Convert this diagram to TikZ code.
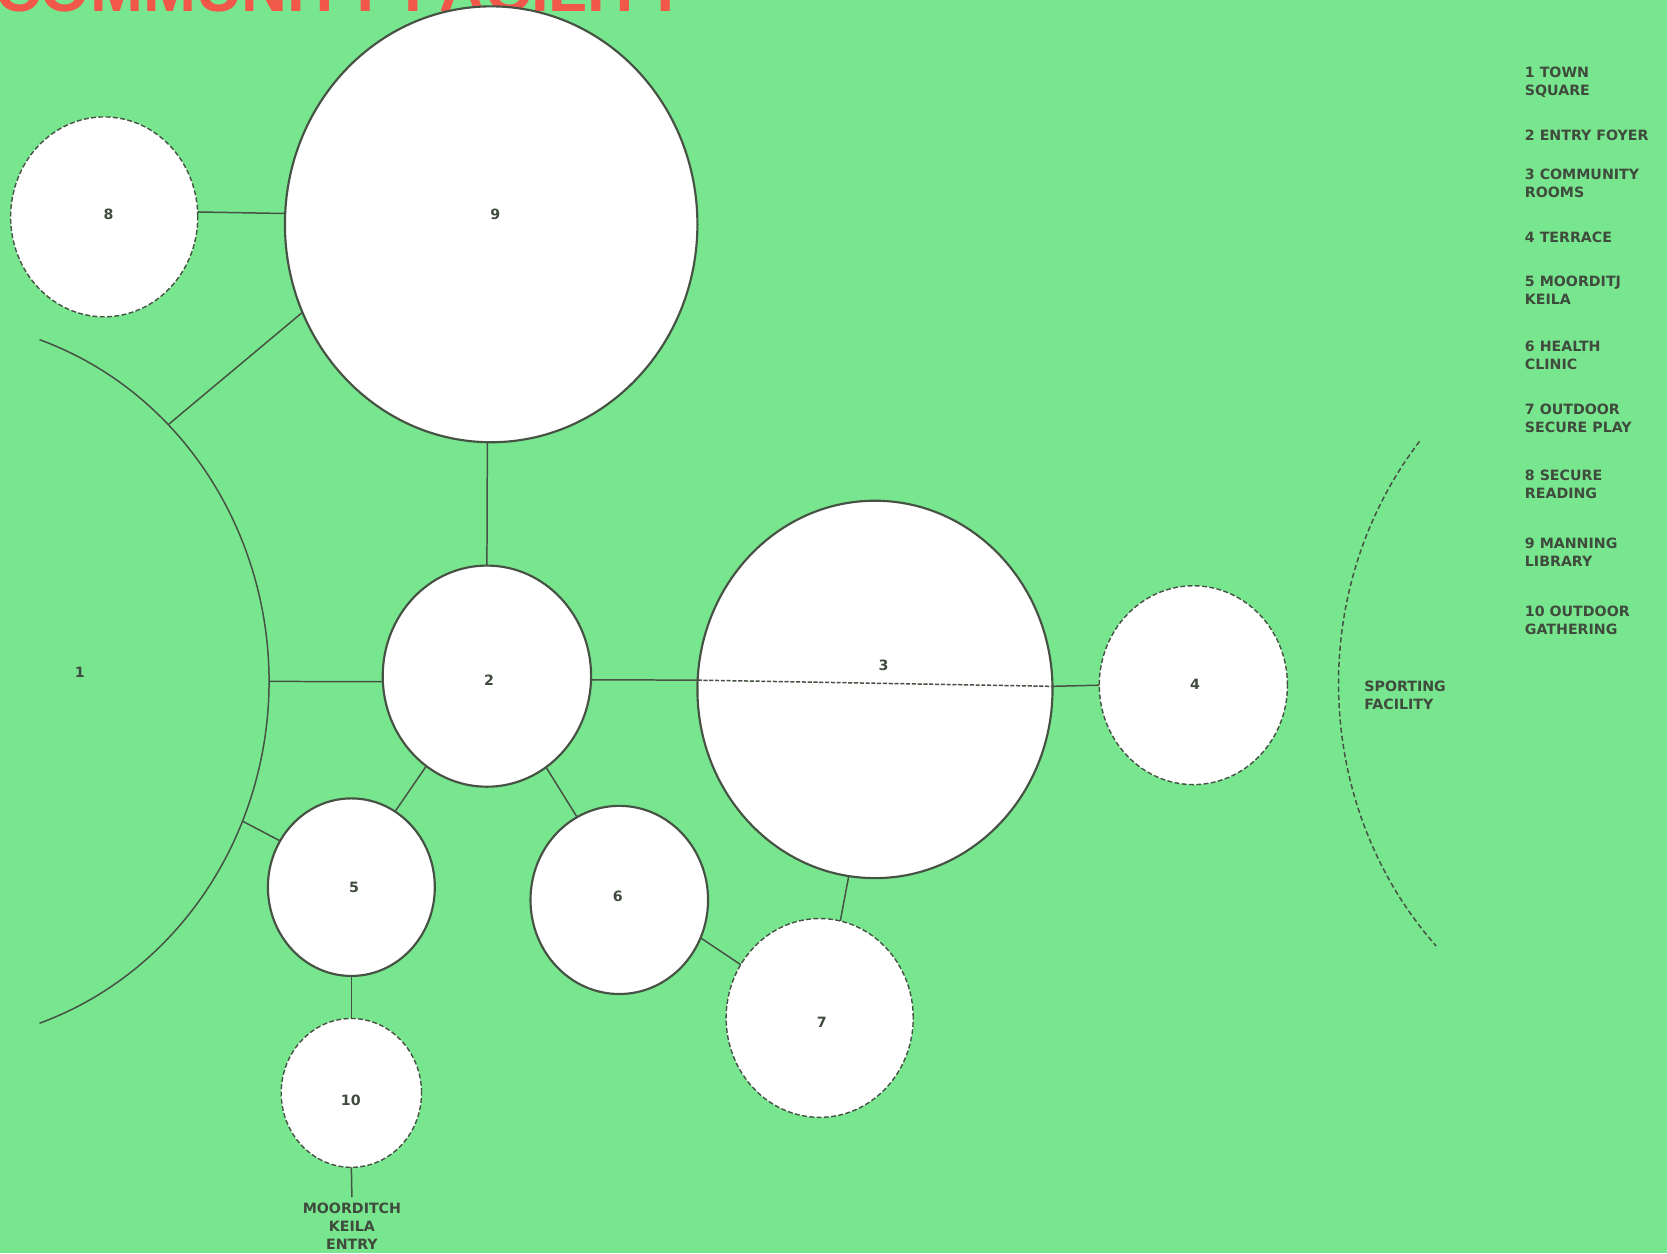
\documentclass[tikz,border=0pt]{standalone}
\usepackage{fontspec}
\setmainfont{DejaVu Sans}
\newfontfamily\titlefont{Liberation Sans}
\usetikzlibrary{shapes.geometric}
\definecolor{bggreen}{HTML}{78E68F}
\definecolor{linegrey}{HTML}{465243}
\definecolor{textgrey}{HTML}{3F4B3C}
\definecolor{titlered}{HTML}{F2584A}
\tikzset{
    room/.style={ellipse, draw=linegrey, fill=white, line width=1.15pt, inner sep=0pt, outer sep=0pt},
    openroom/.style={room, line width=0.75pt, dash pattern=on 2.6pt off 1.3pt},
    link/.style={draw=linegrey, line width=0.8pt},
    tag/.style={text=textgrey, font=\fontsize{7.6}{9.64}\selectfont\bfseries, inner sep=0pt}
}
\begin{document}
\begin{tikzpicture}[x=0.02cm, y=0.02cm]
    \def\px{0.02cm}
    \fill[bggreen] (0,0) rectangle (1568,1179);
    \useasboundingbox (0,0) rectangle (1568,1179);
    % title, cut by the top edge
    \node[anchor=base west, inner sep=0pt, text=titlered, font=\titlefont\fontsize{34}{40}\selectfont\bfseries] (title) at (-5,1168) {COMMUNITY FACILITY};
    % town square
    \node[ellipse, minimum width=640*\px, minimum height=680*\px, inner sep=0pt, outer sep=0pt] (r1) at (-67,538) {};
    \draw[link] (r1.center) ++(71:320 and 340) arc[start angle=71, end angle=-71, x radius=320, y radius=340];
    % rooms
    \foreach \n/\x/\y/\w/\h in {9/462/968/388/410, 2/458/543/196/208, 3/823/530.5/334/355, 5/330.5/344.5/157/167, 6/582.5/332.5/167/177}{
        \node[room, minimum width=\w*\px, minimum height=\h*\px] (r\n) at (\x,\y) {};
    }
    \foreach \n/\x/\y/\w/\h in {8/98/975/176/188, 4/1122.5/534.5/177/187, 7/771/221.5/176/187, 10/330.5/151/132/140}{
        \node[openroom, minimum width=\w*\px, minimum height=\h*\px] (r\n) at (\x,\y) {};
    }
    \foreach \n/\x/\y in {1/75/547, 2/460/539, 3/831/553, 4/1124/535, 5/333/344, 6/581/336, 7/773/217, 8/102/977, 9/466/977, 10/330/144}{
        \node[tag] (t\n) at (\x,\y) {\n};
    }
    \node[tag, align=center, anchor=north, inner ysep=3pt] (entry) at (331,53) {MOORDITCH\\KEILA\\ENTRY};
    % links
    \draw[link] (r8.3) -- (r9.177);
    \draw[link] (r1.47) -- (r9.205);
    \draw[link] (r9.269) -- (r2.north);
    \draw[link] (r1.east) -- (r2.183);
    \draw[link] (r2.358) -- (r3.177);
    \draw[link, dash pattern=on 2.2pt off 0.9pt] (r3.177) -- (r3.1);
    \draw[link] (r3.1) -- (r4.west);
    \draw[link] (r2.236) -- (r5.60);
    \draw[link] (r1.336) -- (r5.147);
    \draw[link] (r2.303) -- (r6.117);
    \draw[link] (r6.335) -- (r7.146);
    \draw[link] (r3.262) -- (r7.78);
    \draw[link] (r5.south) -- (r10.north);
    \draw[link] (r10.south) -- (entry.north);
    % sporting facility
    \draw[link, dash pattern=on 2.8pt off 1.6pt] (1601,536) ++(141:342 and 362) arc[start angle=141, end angle=223, x radius=342, y radius=362];
    \node[tag, align=left, anchor=north west] (sport) at (1283,538.5) {SPORTING\\FACILITY};
    % legend
    \foreach \y/\txt [count=\i] in {1116.5/{1 TOWN\\SQUARE}, 1057.5/{2 ENTRY FOYER}, 1020.5/{3 COMMUNITY\\ROOMS}, 961.5/{4 TERRACE}, 919.5/{5 MOORDITJ\\KEILA}, 858.5/{6 HEALTH\\CLINIC}, 799.5/{7 OUTDOOR\\SECURE PLAY}, 737.5/{8 SECURE\\READING}, 673.5/{9 MANNING\\LIBRARY}, 609.5/{10 OUTDOOR\\GATHERING}}{
        \node[tag, align=left, anchor=north west] (key\i) at (1434,\y) {\txt};
    }
\end{tikzpicture}
\end{document}
